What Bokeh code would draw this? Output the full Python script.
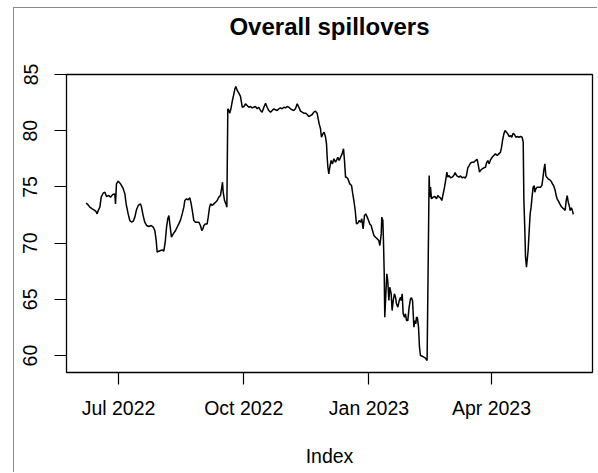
import pandas as pd
from bokeh.plotting import figure
from bokeh.models import Range1d, FixedTicker, LinearAxis
from bokeh.embed import file_html
from bokeh.resources import INLINE

# Observation dates are stored as day offsets from 1 July 2022
ORIGIN = pd.Timestamp("2022-07-01")

day_offset = [
    -23.8, -22.5, -21.1, -19.3, -18.1, -16.7, -15.7, -14.9, -13.7, -12.7,
    -11.3, -10.0, -8.8, -7.1, -5.9, -4.2, -2.7, -2.2, -1.5, -0.2,
    1.5, 3.2, 4.7, 5.6, 7.1, 8.3, 9.6, 10.8, 12.0, 13.2,
    14.5, 16.2, 16.9, 18.1, 19.3, 20.6, 22.3, 24.0, 25.5, 26.7,
    27.7, 28.4, 29.6, 30.9, 32.3, 33.3, 34.3, 35.3, 36.2, 37.0,
    37.7, 38.9, 40.2, 41.9, 43.1, 44.3, 45.6, 46.8, 48.0, 48.7,
    50.0, 51.2, 52.4, 53.4, 54.6, 55.3, 56.6, 57.8, 59.0, 60.2,
    61.2, 62.0, 62.7, 63.9, 65.1, 65.9, 66.9, 67.6, 68.8, 70.0,
    71.3, 72.5, 73.7, 74.9, 75.7, 76.4, 76.9, 77.9, 78.9, 79.6,
    80.3, 81.1, 81.8, 82.8, 83.7, 84.5, 85.5, 86.2, 87.2, 88.4,
    89.6, 90.9, 92.1, 93.3, 94.5, 95.7, 97.0, 98.2, 99.4, 100.6,
    101.9, 103.1, 104.3, 105.5, 106.8, 108.0, 109.2, 110.4, 111.7, 112.9,
    114.1, 115.3, 116.6, 117.8, 119.0, 120.2, 121.5, 122.7, 123.9, 125.1,
    126.4, 127.6, 128.8, 130.0, 131.3, 132.5, 133.7, 134.9, 136.1, 137.4,
    138.6, 139.8, 141.0, 142.3, 143.5, 144.7, 145.9, 146.7, 147.4, 148.4,
    149.1, 150.1, 151.1, 152.1, 152.8, 153.3, 153.8, 154.5, 155.2, 156.2,
    157.2, 158.2, 159.4, 160.1, 161.1, 162.1, 163.1, 164.3, 165.3, 166.0,
    166.8, 167.5, 168.5, 169.9, 171.2, 172.1, 172.9, 173.9, 174.8, 175.8,
    176.8, 177.8, 178.7, 179.7, 180.7, 181.7, 182.7, 183.7, 184.6, 185.6,
    186.6, 187.6, 188.8, 190.0, 191.2, 192.0, 193.0, 193.4, 194.2, 194.7,
    195.2, 195.6, 196.4, 197.1, 197.8, 198.6, 199.3, 200.3, 201.0, 201.8,
    202.7, 203.5, 204.2, 205.2, 206.2, 207.2, 207.7, 208.4, 209.1, 210.1,
    210.8, 211.6, 212.5, 213.5, 214.5, 215.2, 216.0, 216.5, 217.0, 217.7,
    218.4, 218.9, 219.6, 220.4, 221.1, 221.8, 223.1, 224.3, 225.5, 226.7,
    228.2, 228.7, 229.2, 229.9, 231.2, 232.4, 233.6, 234.6, 235.6, 236.5,
    237.5, 238.5, 239.5, 240.5, 241.2, 241.9, 242.9, 243.9, 245.1, 246.3,
    247.3, 248.3, 249.3, 250.3, 251.2, 252.5, 253.7, 254.7, 255.6, 256.6,
    257.6, 258.6, 259.8, 261.0, 262.3, 263.5, 264.5, 265.2, 265.9, 267.2,
    268.4, 269.6, 270.3, 271.3, 272.3, 273.3, 274.5, 275.7, 276.9, 278.2,
    279.4, 280.6, 281.4, 282.1, 283.1, 284.0, 285.0, 286.0, 287.0, 288.0,
    288.9, 289.9, 290.9, 291.9, 292.9, 294.1, 295.3, 296.5, 297.3, 297.8,
    298.5, 299.0, 299.7, 300.2, 300.9, 301.7, 302.4, 303.1, 303.9, 304.6,
    305.4, 305.8, 306.6, 307.6, 308.8, 310.0, 311.0, 311.7, 312.4, 313.2,
    313.9, 314.6, 315.6, 316.8, 317.8, 318.8, 319.8, 320.8, 321.5, 322.2,
    323.2, 324.2, 325.2, 326.2, 327.1, 328.1, 328.9, 329.6, 330.4, 331.1,
    331.8, 332.6, 333.3, 334.1,
]

spillover = [
    73.55, 73.43, 73.20, 73.05, 72.96, 72.84, 72.60, 72.90, 73.20, 74.09,
    74.44, 74.53, 74.15, 74.23, 74.09, 74.32, 74.38, 73.49, 75.27, 75.51,
    75.27, 74.92, 74.38, 73.49, 72.60, 72.01, 71.86, 71.95, 72.31, 72.96,
    73.35, 73.49, 73.20, 72.45, 71.86, 71.57, 71.48, 71.57, 71.42, 71.12,
    70.23, 69.19, 69.28, 69.34, 69.40, 69.28, 70.08, 71.42, 72.16, 72.45,
    71.71, 70.53, 70.82, 71.12, 71.42, 71.71, 72.07, 72.60, 73.20, 73.79,
    73.94, 73.85, 74.03, 73.49, 72.60, 72.01, 71.86, 71.86, 71.86, 71.57,
    71.12, 71.27, 71.57, 71.71, 71.71, 72.31, 73.20, 73.49, 73.35, 73.49,
    73.64, 73.79, 74.09, 74.23, 74.83, 75.42, 74.53, 73.79, 73.49, 73.20,
    81.95, 81.80, 81.56, 82.09, 82.69, 83.13, 83.73, 83.93, 83.58, 83.34,
    83.05, 82.09, 82.15, 82.39, 82.24, 82.09, 82.15, 82.03, 82.09, 82.15,
    81.95, 82.09, 81.80, 81.65, 82.09, 82.45, 82.09, 81.80, 81.65, 81.80,
    81.95, 81.86, 81.80, 81.95, 82.03, 81.95, 82.09, 82.03, 82.15, 82.09,
    81.95, 81.86, 81.80, 81.95, 82.39, 82.09, 81.74, 81.65, 81.56, 81.56,
    81.44, 81.26, 81.35, 81.44, 81.65, 81.74, 81.56, 81.06, 80.61, 80.17,
    79.42, 79.72, 79.87, 79.42, 78.83, 77.64, 76.75, 76.16, 76.75, 77.35,
    77.05, 77.50, 77.20, 77.35, 77.64, 77.35, 77.64, 77.94, 78.39, 77.35,
    75.87, 75.87, 75.72, 75.27, 75.12, 74.38, 73.79, 72.90, 71.71, 71.77,
    72.01, 71.86, 72.16, 71.27, 72.45, 72.60, 72.31, 72.01, 71.71, 71.57,
    71.12, 70.68, 70.53, 70.38, 70.23, 69.79, 70.82, 72.31, 72.01, 69.94,
    67.27, 63.41, 65.49, 67.27, 66.67, 64.89, 66.08, 65.49, 64.00, 64.89,
    65.49, 65.19, 64.60, 64.30, 64.89, 65.19, 64.89, 65.49, 63.71, 63.41,
    63.71, 63.11, 63.11, 64.30, 65.04, 65.13, 64.89, 63.71, 62.52, 63.11,
    62.82, 63.41, 63.35, 62.52, 60.74, 60.00, 59.94, 59.85, 59.76, 59.55,
    76.01, 74.09, 74.98, 73.94, 74.09, 74.15, 73.94, 74.23, 74.09, 74.03,
    73.79, 74.38, 74.98, 75.72, 76.31, 75.87, 76.01, 75.81, 75.87, 76.01,
    76.28, 76.01, 75.93, 75.87, 75.98, 75.81, 75.87, 75.78, 76.01, 76.70,
    76.90, 77.11, 77.20, 77.20, 77.35, 77.44, 76.81, 76.31, 76.46, 76.61,
    76.70, 76.75, 77.11, 77.35, 77.05, 77.41, 77.64, 77.79, 77.94, 77.79,
    77.94, 78.09, 78.53, 79.13, 79.72, 80.02, 79.87, 79.72, 79.48, 79.57,
    79.42, 79.78, 79.66, 79.42, 79.48, 79.42, 79.48, 79.42, 78.98, 73.79,
    71.12, 68.75, 67.86, 68.45, 69.34, 71.12, 72.60, 73.20, 74.23, 74.98,
    75.12, 74.53, 74.83, 74.98, 74.98, 74.98, 75.12, 75.72, 76.46, 77.05,
    76.01, 75.87, 75.72, 75.63, 75.51, 75.27, 75.06, 74.68, 74.23, 73.94,
    73.73, 73.49, 73.26, 73.14, 73.05, 72.90, 73.79, 74.23, 73.64, 73.35,
    72.90, 73.14, 72.96, 72.55,
]

x_tick_dates = ["2022-07-01", "2022-10-01", "2023-01-01", "2023-04-01"]
x_tick_labels = ["Jul 2022", "Oct 2022", "Jan 2023", "Apr 2023"]
y_ticks = [60, 65, 70, 75, 80, 85]
TITLE = "Overall spillovers"

FONT = "Liberation Sans"


def to_ms(ts):
    return float(pd.Timestamp(ts).value // 10**6)


dates = ORIGIN + pd.to_timedelta(day_offset, unit="D")
x_ticks = [to_ms(d) for d in x_tick_dates]

x_start = to_ms(ORIGIN + pd.Timedelta(days=-38.2))
x_end = to_ms(ORIGIN + pd.Timedelta(days=348.2))
x_range = Range1d(start=x_start, end=x_end)
y_range = Range1d(start=58.49, end=85.0)

p = figure(width=584, height=465, x_axis_type="datetime",
           x_range=x_range, y_range=y_range,
           output_backend="svg", toolbar_location=None,
           min_border_left=52, min_border_right=6,
           min_border_top=66, min_border_bottom=101)
p.margin = (7, 0, 0, 13)
p.styles = {"border-left": "1px solid #8a8a8a", "border-top": "1px solid #8a8a8a"}
p.background_fill_color = "white"
p.border_fill_color = "white"
p.outline_line_color = "black"
p.outline_line_width = 1.3
p.grid.visible = False

xaxis = p.below[0]
yaxis = p.left[0]

for ax in (xaxis, yaxis):
    ax.axis_line_color = None
    ax.major_tick_line_color = "black"
    ax.major_tick_line_width = 1.2
    ax.major_tick_out = 12
    ax.major_tick_in = 0
    ax.minor_tick_line_color = None
    ax.major_label_text_font = FONT
    ax.major_label_text_font_size = "19.5px"
    ax.major_label_text_color = "black"

xaxis.ticker = FixedTicker(ticks=x_ticks)
xaxis.major_label_overrides = {t: lab for t, lab in zip(x_ticks, x_tick_labels)}
xaxis.major_label_standoff = 12
xaxis.axis_label = "Index"
xaxis.axis_label_text_font = FONT
xaxis.axis_label_text_font_size = "19.5px"
xaxis.axis_label_text_font_style = "normal"
xaxis.axis_label_text_color = "black"
xaxis.axis_label_standoff = 23

yaxis.ticker = FixedTicker(ticks=y_ticks)
yaxis.major_label_orientation = "vertical"
yaxis.major_label_standoff = 17

# main title: a tick-less axis above the frame carries the heading text
title_axis = LinearAxis(ticker=FixedTicker(ticks=[]), axis_label=TITLE,
                        axis_line_color=None, major_tick_line_color=None,
                        minor_tick_line_color=None,
                        axis_label_text_font=FONT,
                        axis_label_text_font_size="24px",
                        axis_label_text_font_style="bold",
                        axis_label_text_color="black",
                        axis_label_standoff=35)
p.add_layout(title_axis, "above")

p.line(dates, spillover, line_color="black", line_width=1.5)

open("out.html", "w").write(file_html(p, INLINE))
